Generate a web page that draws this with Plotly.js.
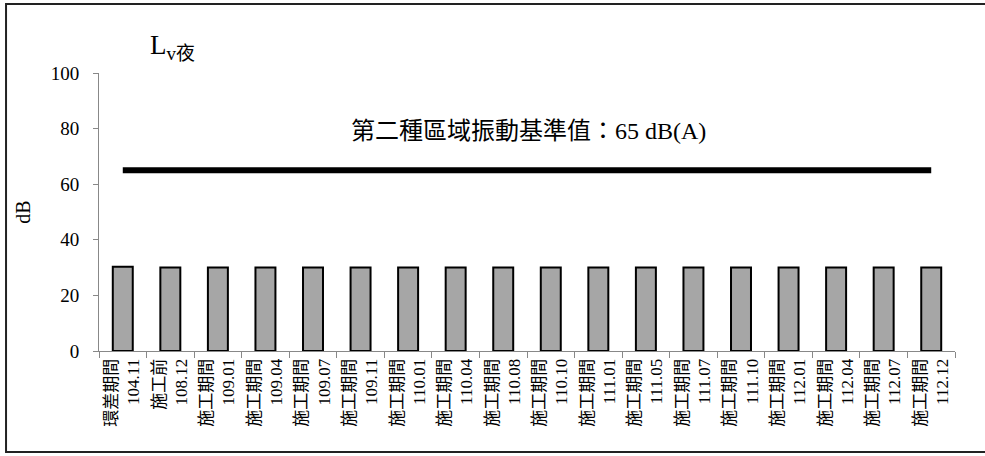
<!DOCTYPE html>
<html>
<head>
<meta charset="utf-8">
<script src="https://cdn.plot.ly/plotly-3.0.1.min.js"></script>
<style>html,body{margin:0;padding:0;background:#fff}#chart{width:985px;height:456px}</style>
</head>
<body>
<div id="chart"></div>
<script>
const periods = ["環差期間","施工前","施工期間","施工期間","施工期間","施工期間","施工期間","施工期間","施工期間","施工期間","施工期間","施工期間","施工期間","施工期間","施工期間","施工期間","施工期間","施工期間"];
const dates = ["104.11","108.12","109.01","109.04","109.07","109.11","110.01","110.04","110.08","110.10","111.01","111.05","111.07","111.10","112.01","112.04","112.07","112.12"];
const lvNight = [30.3,30,30,30,30,30,30,30,30,30,30,30,30,30,30,30,30,30];
const standard = [65,65,65,65,65,65,65,65,65,65,65,65,65,65,65,65,65,65];
const yTicks = [0,20,40,60,80,100];

const cats = periods.map((p,i)=>p+"<br>"+dates[i]);
const FONT = "'Liberation Serif','Times New Roman','Noto Sans CJK TC',serif";

const traces = [
  {type:'bar', x:cats, y:lvNight, width:0.42,
   marker:{color:'#a6a6a6', line:{color:'#000', width:2}}, hoverinfo:'skip'},
  {type:'scatter', mode:'lines', x:cats, y:standard,
   line:{color:'#000', width:6}, hoverinfo:'skip'}
];

const layout = {
  width:985, height:456,
  margin:{l:99, r:30, t:73, b:105},
  paper_bgcolor:'#fff', plot_bgcolor:'#fff',
  showlegend:false,
  font:{family:FONT, color:'#000'},
  xaxis:{type:'category', tickson:'boundaries', ticks:'outside', ticklen:6, tickcolor:'#888',
    showline:true, linecolor:'#888', linewidth:1, tickangle:-90,
    tickfont:{size:17, family:FONT}, showgrid:false, zeroline:false, fixedrange:true},
  yaxis:{range:[0,100], tickvals:yTicks, ticks:'outside', ticklen:5, tickcolor:'#888',
    showline:true, linecolor:'#888', linewidth:1, showgrid:false, zeroline:false,
    tickfont:{size:19, family:FONT}, ticklabelstandoff:10,
    title:{text:'dB', font:{size:20, family:FONT}, standoff:14}},
  shapes:[{type:'rect', xref:'paper', yref:'paper', x0:-0.1086, x1:1.041, y0:-0.363, y1:1.248,
    line:{color:'#222', width:2}, fillcolor:'rgba(0,0,0,0)'}],
  annotations:[
    {xref:'paper', yref:'paper', x:0.057, y:1.025, xanchor:'left', yanchor:'bottom', showarrow:false,
     text:"L<sub>v夜</sub>", font:{size:27, family:FONT}},
    {xref:'paper', yref:'paper', x:0.502, y:0.791, xanchor:'center', yanchor:'middle', showarrow:false,
     text:"第二種區域振動基準值：65 dB(A)", font:{size:24, family:FONT}}
  ]
};
Plotly.newPlot('chart', traces, layout, {displayModeBar:false, staticPlot:true});
</script>
</body>
</html>
